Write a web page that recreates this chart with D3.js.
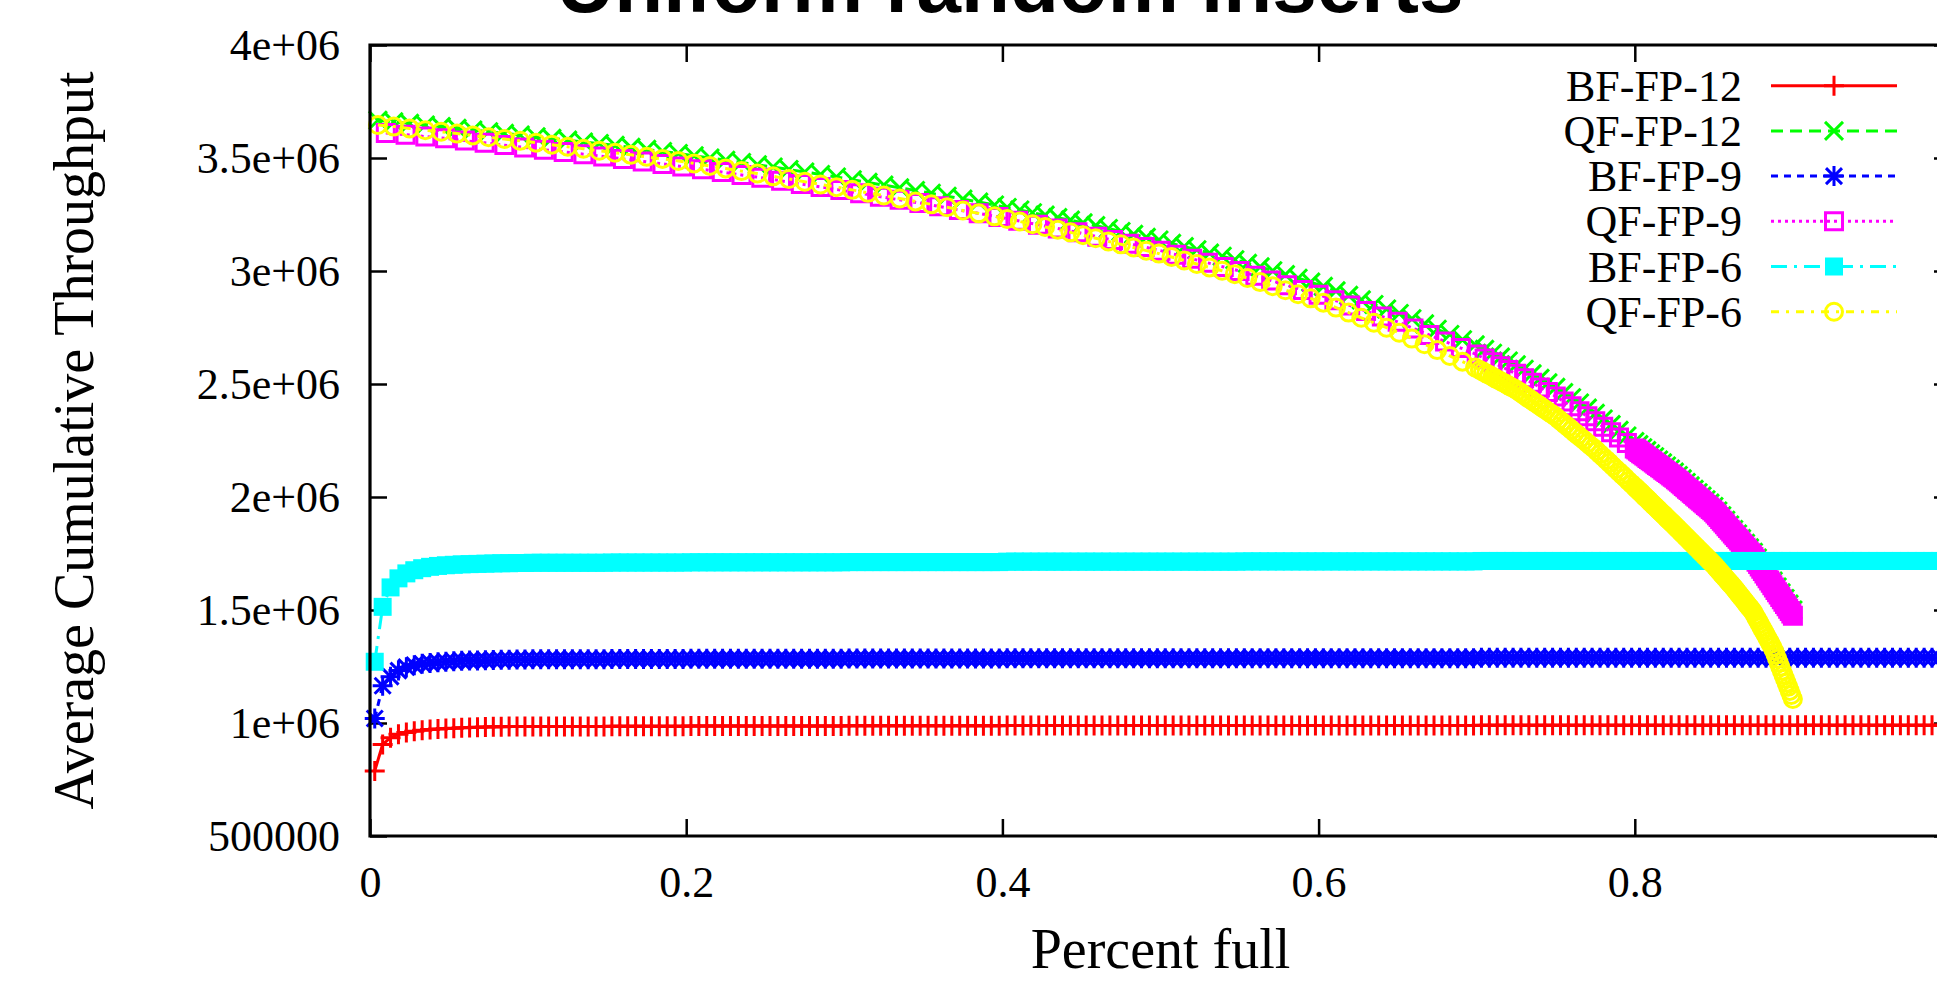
<!DOCTYPE html>
<html>
<head>
<meta charset="utf-8">
<script src="https://cdn.jsdelivr.net/npm/d3@7"></script>
<style>
  html, body { margin: 0; padding: 0; background: #fff; overflow: hidden; }
  svg { display: block; }
</style>
</head>
<body>
<div id="chart"></div>
<script>
// --- data (throughput in thousands of ops/s) ---
const seriesNames = ['BF-FP-12', 'QF-FP-12', 'BF-FP-9', 'QF-FP-9', 'BF-FP-6', 'QF-FP-6'];
const seriesColors = ['#ff0000', '#00ff00', '#0000ff', '#ff00ff', '#00ffff', '#ffff00'];
const seriesDash = [null, '12,7', '7,6', '3,4', '16,7,3,7', '8,7,3,7'];
const seriesMarker = ['plus', 'cross', 'star', 'box', 'fbox', 'circle'];

const xTicks = [0, 0.2, 0.4, 0.6, 0.8];
const xTickLabels = ['0', '0.2', '0.4', '0.6', '0.8'];
const yTicks = [500, 1000, 1500, 2000, 2500, 3000, 3500, 4000];
const yTickLabels = ['500000', '1e+06', '1.5e+06', '2e+06', '2.5e+06', '3e+06', '3.5e+06', '4e+06'];

// bloom filter runs share one sampling grid
const bfX = [
  0.003,0.008,0.013,0.018,0.023,0.028,0.033,0.038,0.043,0.048,
  0.053,0.058,0.063,0.068,0.073,0.078,0.083,0.088,0.093,0.098,
  0.103,0.108,0.113,0.118,0.123,0.128,0.133,0.138,0.143,0.148,
  0.153,0.158,0.163,0.168,0.173,0.178,0.183,0.188,0.193,0.198,
  0.203,0.208,0.213,0.218,0.223,0.228,0.233,0.238,0.243,0.248,
  0.253,0.258,0.263,0.268,0.273,0.278,0.283,0.288,0.293,0.298,
  0.303,0.308,0.313,0.318,0.323,0.328,0.333,0.338,0.343,0.348,
  0.353,0.358,0.363,0.368,0.373,0.378,0.383,0.388,0.393,0.398,
  0.403,0.408,0.413,0.418,0.423,0.428,0.433,0.438,0.443,0.448,
  0.453,0.458,0.463,0.468,0.473,0.478,0.483,0.488,0.493,0.498,
  0.503,0.508,0.513,0.518,0.523,0.528,0.533,0.538,0.543,0.548,
  0.553,0.558,0.563,0.568,0.573,0.578,0.583,0.588,0.593,0.598,
  0.603,0.608,0.613,0.618,0.623,0.628,0.633,0.638,0.643,0.648,
  0.653,0.658,0.663,0.668,0.673,0.678,0.683,0.688,0.693,0.698,
  0.703,0.708,0.713,0.718,0.723,0.728,0.733,0.738,0.743,0.748,
  0.753,0.758,0.763,0.768,0.773,0.778,0.783,0.788,0.793,0.798,
  0.803,0.808,0.813,0.818,0.823,0.828,0.833,0.838,0.843,0.848,
  0.853,0.858,0.863,0.868,0.873,0.878,0.883,0.888,0.893,0.898,
  0.903,0.908,0.913,0.918,0.923,0.928,0.933,0.938,0.943,0.948,
  0.953,0.958,0.963,0.968,0.973,0.978,0.983,0.988,0.993,0.998
];
const bf12 = [
  788,905,935,950,958,964,968,971,974,976,
  977,979,980,981,982,983,983,984,984,985,
  985,985,985,985,985,985,985,985,985,985,
  986,986,986,986,986,986,986,986,986,986,
  987,987,987,987,987,987,987,987,987,987,
  987,987,987,987,987,987,987,987,987,987,
  988,988,988,988,988,988,988,988,988,988,
  988,988,988,988,988,988,988,988,988,988,
  989,989,989,989,989,989,989,989,989,989,
  989,989,989,989,989,989,989,989,989,989,
  989,989,989,989,989,989,989,989,989,989,
  989,989,989,989,989,989,989,989,989,989,
  989,989,989,989,989,989,989,989,989,989,
  989,989,989,989,989,989,989,989,989,989,
  990,990,990,990,990,990,990,990,990,990,
  990,990,990,990,990,990,990,990,990,990,
  990,990,990,990,990,990,990,990,990,990,
  990,990,990,990,990,990,990,990,990,990,
  990,990,990,990,990,990,990,990,990,990,
  990,990,990,990,990,990,990,990,990,990
];
const bf9 = [
  1020,1165,1205,1232,1247,1256,1262,1266,1269,1271,
  1273,1275,1276,1277,1278,1279,1280,1280,1281,1281,
  1282,1282,1282,1282,1282,1282,1282,1282,1282,1282,
  1283,1283,1283,1283,1283,1283,1283,1283,1283,1283,
  1284,1284,1284,1284,1284,1284,1284,1284,1284,1284,
  1284,1284,1284,1284,1284,1284,1284,1284,1284,1284,
  1285,1285,1285,1285,1285,1285,1285,1285,1285,1285,
  1285,1285,1285,1285,1285,1285,1285,1285,1285,1285,
  1286,1286,1286,1286,1286,1286,1286,1286,1286,1286,
  1286,1286,1286,1286,1286,1286,1286,1286,1286,1286,
  1286,1286,1286,1286,1286,1286,1286,1286,1286,1286,
  1287,1287,1287,1287,1287,1287,1287,1287,1287,1287,
  1287,1287,1287,1287,1287,1287,1287,1287,1287,1287,
  1287,1287,1287,1287,1287,1287,1287,1287,1287,1287,
  1289,1289,1289,1289,1289,1289,1289,1289,1289,1289,
  1289,1289,1289,1289,1289,1289,1289,1289,1289,1289,
  1289,1289,1289,1289,1289,1289,1289,1289,1289,1289,
  1289,1289,1289,1289,1289,1289,1289,1289,1289,1289,
  1289,1289,1289,1289,1289,1289,1289,1289,1289,1289,
  1289,1289,1289,1289,1289,1289,1289,1289,1289,1289
];
const bf6 = [
  1271,1514,1600,1640,1662,1676,1685,1691,1695,1698,
  1700,1702,1703,1704,1705,1706,1707,1707,1708,1708,
  1709,1709,1709,1709,1709,1709,1709,1709,1709,1709,
  1710,1710,1710,1710,1710,1710,1710,1710,1710,1710,
  1711,1711,1711,1711,1711,1711,1711,1711,1711,1711,
  1711,1711,1711,1711,1711,1711,1711,1711,1711,1711,
  1712,1712,1712,1712,1712,1712,1712,1712,1712,1712,
  1712,1712,1712,1712,1712,1712,1712,1712,1712,1712,
  1714,1714,1714,1714,1714,1714,1714,1714,1714,1714,
  1714,1714,1714,1714,1714,1714,1714,1714,1714,1714,
  1714,1714,1714,1714,1714,1714,1714,1714,1714,1714,
  1715,1715,1715,1715,1715,1715,1715,1715,1715,1715,
  1715,1715,1715,1715,1715,1715,1715,1715,1715,1715,
  1715,1715,1715,1715,1715,1715,1715,1715,1715,1715,
  1717,1717,1717,1717,1717,1717,1717,1717,1717,1717,
  1717,1717,1717,1717,1717,1717,1717,1717,1717,1717,
  1717,1717,1717,1717,1717,1717,1717,1717,1717,1717,
  1717,1717,1717,1717,1717,1717,1717,1717,1717,1717,
  1717,1717,1717,1717,1717,1717,1717,1717,1717,1717,
  1717,1717,1717,1717,1717,1717,1717,1717,1717,1717
];

// quotient filter runs — samples get denser as the filter fills
const qfX = [
  0.005,0.015,0.025,0.035,0.045,0.055,0.065,0.075,0.085,0.095,
  0.105,0.115,0.125,0.135,0.145,0.155,0.165,0.175,0.185,0.195,
  0.205,0.215,0.225,0.235,0.245,0.255,0.265,0.275,0.285,0.295,
  0.305,0.315,0.325,0.335,0.345,0.355,0.365,0.375,0.385,0.395,
  0.403,0.411,0.419,0.427,0.435,0.443,0.451,0.459,0.467,0.475,
  0.483,0.491,0.499,0.507,0.515,0.523,0.531,0.539,0.547,0.555,
  0.563,0.571,0.579,0.587,0.595,0.603,0.611,0.619,0.627,0.635,
  0.643,0.651,0.659,0.667,0.675,0.683,0.691,0.699,
  0.705,0.71,0.715,0.72,0.725,0.73,0.735,0.74,0.745,0.75,
  0.755,0.76,0.765,0.77,0.775,0.78,0.785,0.79,0.795,
  0.8,0.8025,0.805,0.8075,0.81,0.8125,0.815,0.8175,0.82,0.8225,
  0.825,0.8275,0.83,0.8325,0.835,0.8375,0.84,0.8425,0.845,0.8475,
  0.85,0.8525,0.855,0.8575,0.86,0.8625,0.865,0.8675,0.87,0.8725,
  0.875,0.8775,0.88,0.8825,0.885,0.8875,0.89,0.8925,0.895,0.8975,0.9
];
const qf12 = [
  3667,3660,3653,3646,3639,3631,3624,3616,3609,3602,
  3594,3587,3579,3571,3564,3556,3547,3538,3529,3520,
  3510,3500,3490,3480,3470,3460,3449,3438,3427,3416,
  3404,3392,3380,3368,3356,3344,3331,3318,3305,3292,
  3281,3270,3258,3247,3236,3225,3213,3201,3188,3175,
  3162,3149,3137,3122,3108,3094,3079,3065,3050,3034,
  3018,3001,2984,2968,2951,2932,2912,2892,2872,2852,
  2832,2812,2789,2766,2742,2719,2696,2673,
  2653,2636,2619,2602,2585,2565,2545,2525,2505,2485,
  2462,2439,2416,2393,2370,2345,2320,2295,2270,
  2245,2232,2218,2205,2191,2178,2164,2151,2137,2124,
  2110,2095,2080,2064,2049,2034,2019,2004,1988,1973,
  1958,1938,1917,1897,1876,1856,1836,1816,1795,1775,
  1755,1730,1704,1678,1653,1628,1602,1576,1551,1526,1500
];

// dense tail sampling shared by the 6 and 9 bit quotient filters
const qfTailX = [
  0.801,0.802,0.803,0.804,0.805,0.806,0.807,0.808,0.809,0.81,
  0.811,0.812,0.813,0.814,0.815,0.816,0.817,0.818,0.819,0.82,
  0.821,0.822,0.823,0.824,0.825,0.826,0.827,0.828,0.829,0.83,
  0.831,0.832,0.833,0.834,0.835,0.836,0.837,0.838,0.839,0.84,
  0.841,0.842,0.843,0.844,0.845,0.846,0.847,0.848,0.849,0.85,
  0.851,0.852,0.853,0.854,0.855,0.856,0.857,0.858,0.859,0.86,
  0.861,0.862,0.863,0.864,0.865,0.866,0.867,0.868,0.869,0.87,
  0.871,0.872,0.873,0.874,0.875,0.876,0.877,0.878,0.879,0.88,
  0.881,0.882,0.883,0.884,0.885,0.886,0.887,0.888,0.889,0.89,
  0.891,0.892,0.893,0.894,0.895,0.896,0.897,0.898,0.899,0.9
];

// QF-FP-6
const qf6MidX = [
  0.702,0.704,0.706,0.708,0.71,0.712,0.714,0.716,0.718,0.72,
  0.722,0.724,0.726,0.728,0.73,0.732,0.734,0.736,0.738,0.74,
  0.742,0.744,0.746,0.748,0.75,0.752,0.754,0.756,0.758,0.76,
  0.762,0.764,0.766,0.768,0.77,0.772,0.774,0.776,0.778,0.78,
  0.782,0.784,0.786,0.788,0.79,0.792,0.794,0.796,0.798,0.8
];
const qf6X = qfX.slice(0, 78).concat(qf6MidX, qfTailX);
const qf6 = [
  3646,3639,3631,3623,3616,3608,3600,3592,3584,3576,
  3568,3559,3550,3541,3532,3523,3514,3505,3496,3487,
  3476,3465,3454,3442,3431,3419,3407,3395,3383,3371,
  3359,3346,3334,3321,3308,3295,3282,3268,3255,3242,
  3230,3219,3207,3195,3183,3171,3158,3145,3131,3118,
  3104,3090,3077,3062,3047,3031,3016,3001,2986,2969,
  2951,2933,2915,2897,2879,2860,2838,2816,2793,2771,
  2749,2727,2701,2676,2650,2624,2599,2573,
  2562,2555,2547,2540,2532,2524,2517,2509,2502,2494,
  2486,2479,2470,2461,2451,2441,2432,2422,2413,2403,
  2393,2384,2374,2365,2355,2343,2332,2320,2309,2297,
  2285,2274,2262,2251,2239,2227,2216,2203,2190,2177,
  2164,2151,2137,2124,2111,2098,2085,2071,2058,2045,
  2038,2031,2025,2018,2011,2004,1997,1991,1984,1977,
  1970,1963,1957,1950,1943,1936,1929,1923,1916,1909,
  1902,1895,1889,1882,1875,1868,1861,1854,1847,1840,
  1833,1826,1819,1812,1805,1798,1791,1784,1777,1770,
  1763,1756,1749,1742,1735,1728,1721,1714,1707,1700,
  1692,1684,1676,1668,1660,1652,1644,1636,1628,1620,
  1612,1604,1596,1587,1578,1569,1560,1552,1543,1534,
  1525,1516,1508,1499,1490,1477,1464,1452,1439,1426,
  1413,1400,1388,1375,1362,1349,1336,1321,1303,1285,
  1267,1249,1231,1213,1196,1178,1160,1142,1124,1106
];

// QF-FP-9
const qf9HeadX = [
  0.01,0.0225,0.035,0.0475,0.06,0.0725,0.085,0.0975,0.11,0.1225,
  0.135,0.1475,0.16,0.1725,0.185,0.1975,0.21,0.2225,0.235,0.2475,
  0.26,0.2725,0.285,0.2975,0.31,0.3225,0.335,0.3475,0.36,0.3725,
  0.385,0.3975,0.41,0.4225,0.435,0.4475,0.46,
  0.47,0.48,0.49,0.5,0.51,0.52,0.53,0.54,0.55,0.56,
  0.57,0.58,0.59,0.6,0.61,0.62,0.63,0.64,0.65,0.66,
  0.67,0.68,0.69,0.7,
  0.705,0.71,0.715,0.72,0.725,0.73,0.735,0.74,0.745,0.75,
  0.755,0.76,0.765,0.77,0.775,0.78,0.785,0.79,0.795,0.8
];
const qf9X = qf9HeadX.concat(qfTailX);
const qf9 = [
  3611,3603,3595,3587,3577,3567,3557,3547,3537,3527,
  3517,3507,3496,3485,3474,3462,3450,3438,3425,3413,
  3399,3385,3372,3358,3344,3329,3315,3301,3286,3270,
  3255,3239,3222,3205,3188,3171,3152,
  3137,3121,3106,3090,3072,3054,3036,3018,3000,2979,
  2958,2937,2916,2895,2871,2847,2823,2799,2775,2746,
  2717,2688,2659,2630,
  2613,2596,2579,2562,2545,2525,2505,2485,2465,2445,
  2423,2401,2379,2357,2335,2311,2287,2263,2239,2215,
  2210,2205,2199,2194,2189,2184,2179,2173,2168,2163,
  2158,2153,2147,2142,2137,2132,2127,2121,2116,2111,
  2106,2101,2095,2090,2085,2079,2073,2067,2061,2055,
  2049,2043,2037,2031,2025,2019,2013,2007,2001,1995,
  1989,1983,1977,1971,1965,1959,1953,1947,1941,1935,
  1927,1919,1911,1903,1895,1887,1879,1871,1863,1855,
  1847,1839,1831,1823,1815,1807,1799,1791,1783,1775,
  1767,1759,1751,1743,1735,1725,1714,1704,1693,1683,
  1673,1662,1652,1641,1631,1621,1610,1600,1589,1579,
  1569,1558,1548,1537,1527,1517,1506,1496,1485,1475
];

const seriesX = [bfX, qfX, bfX, qf9X, bfX, qf6X];
const seriesY = [bf12, qf12, bf9, qf9, bf6, qf6];

// --- layout ---
const width = 1937;
const height = 982;
const plotLeft = 370, plotRight = 1951, plotTop = 45, plotBottom = 836;
const serif = '"Liberation Serif", "Times New Roman", Times, serif';

const svg = d3.select('#chart').append('svg')
  .attr('width', width)
  .attr('height', height)
  .attr('viewBox', `0 0 ${width} ${height}`);

const x = d3.scaleLinear().domain([0, 1]).range([plotLeft, plotRight]);
const y = d3.scaleLinear().domain([500, 4000]).range([plotBottom, plotTop]);

function markerPath(type) {
  switch (type) {
    case 'plus': return 'M-10,0H10M0,-10V10';
    case 'cross': return 'M-9,-9L9,9M-9,9L9,-9';
    case 'star': return 'M-10,0H10M0,-10V10M-8,-8L8,8M-8,8L8,-8';
    case 'box': return 'M-8.5,-8.5H8.5V8.5H-8.5Z';
    case 'fbox': return 'M-9,-9H9V9H-9Z';
    case 'circle': return 'M8.5,0A8.5,8.5 0 1,1 -8.5,0A8.5,8.5 0 1,1 8.5,0Z';
  }
  return '';
}

function styleMarker(sel, i) {
  const filled = seriesMarker[i] === 'fbox';
  sel.attr('d', markerPath(seriesMarker[i]))
    .attr('fill', filled ? seriesColors[i] : 'none')
    .attr('stroke', filled ? 'none' : seriesColors[i])
    .attr('stroke-width', 3);
}

// ticks (inward on all four sides)
function tidyAxis(g) {
  g.select('.domain').remove();
  g.selectAll('.tick line').attr('stroke', '#000').attr('stroke-width', 2.5);
  g.selectAll('.tick text')
    .attr('fill', '#000')
    .attr('font-family', serif)
    .attr('font-size', 44);
}

svg.append('g')
  .attr('transform', `translate(0,${plotBottom})`)
  .call(d3.axisBottom(x).tickValues(xTicks).tickFormat((d, i) => xTickLabels[i])
    .tickSizeInner(-17).tickSizeOuter(0).tickPadding(30))
  .call(tidyAxis);

svg.append('g')
  .attr('transform', `translate(0,${plotTop})`)
  .call(d3.axisTop(x).tickValues(xTicks).tickFormat('').tickSizeInner(-17).tickSizeOuter(0))
  .call(tidyAxis);

svg.append('g')
  .attr('transform', `translate(${plotLeft},0)`)
  .call(d3.axisLeft(y).tickValues(yTicks).tickFormat((d, i) => yTickLabels[i])
    .tickSizeInner(-17).tickSizeOuter(0).tickPadding(30))
  .call(tidyAxis);

svg.append('g')
  .attr('transform', `translate(${plotRight},0)`)
  .call(d3.axisRight(y).tickValues(yTicks).tickFormat('').tickSizeInner(-17).tickSizeOuter(0))
  .call(tidyAxis);

// series: line first, then its points, in plot order
const line = d3.line();
seriesNames.forEach((name, i) => {
  const pts = seriesX[i].map((v, k) => [x(v), y(seriesY[i][k])]);
  const g = svg.append('g').attr('class', 'series');
  g.append('path')
    .attr('d', line(pts))
    .attr('fill', 'none')
    .attr('stroke', seriesColors[i])
    .attr('stroke-width', 3)
    .attr('stroke-dasharray', seriesDash[i]);
  g.selectAll('path.pt')
    .data(pts)
    .join('path')
    .attr('class', 'pt')
    .attr('transform', (d) => `translate(${d[0]},${d[1]})`)
    .call(styleMarker, i);
});

// border on top
svg.append('path')
  .attr('d', `M${plotRight},${plotBottom}H${plotLeft}V${plotTop}H${plotRight}Z`)
  .attr('fill', 'none')
  .attr('stroke', '#000')
  .attr('stroke-width', 3.2);

// legend
const legend = svg.append('g');
seriesNames.forEach((name, i) => {
  const cy = 85.7 + 45.2 * i;
  legend.append('text')
    .attr('x', 1742)
    .attr('y', cy + 15)
    .attr('text-anchor', 'end')
    .attr('font-family', serif)
    .attr('font-size', 44)
    .attr('fill', '#000')
    .text(name);
  legend.append('line')
    .attr('x1', 1771).attr('x2', 1897)
    .attr('y1', cy).attr('y2', cy)
    .attr('stroke', seriesColors[i])
    .attr('stroke-width', 3)
    .attr('stroke-dasharray', seriesDash[i]);
  legend.append('path')
    .attr('transform', `translate(1834,${cy})`)
    .call(styleMarker, i);
});

// titles
svg.append('text')
  .attr('x', 1010)
  .attr('y', 12)
  .attr('text-anchor', 'middle')
  .attr('font-family', '"Liberation Sans", Arial, Helvetica, sans-serif')
  .attr('font-weight', 'bold')
  .attr('font-size', 80)
  .text('Uniform random inserts');

svg.append('text')
  .attr('x', (plotLeft + plotRight) / 2)
  .attr('y', 968)
  .attr('text-anchor', 'middle')
  .attr('font-family', serif)
  .attr('font-size', 56)
  .text('Percent full');

svg.append('text')
  .attr('transform', `translate(93,${(plotTop + plotBottom) / 2}) rotate(-90)`)
  .attr('text-anchor', 'middle')
  .attr('font-family', serif)
  .attr('font-size', 56)
  .text('Average Cumulative Throughput');
</script>
</body>
</html>
